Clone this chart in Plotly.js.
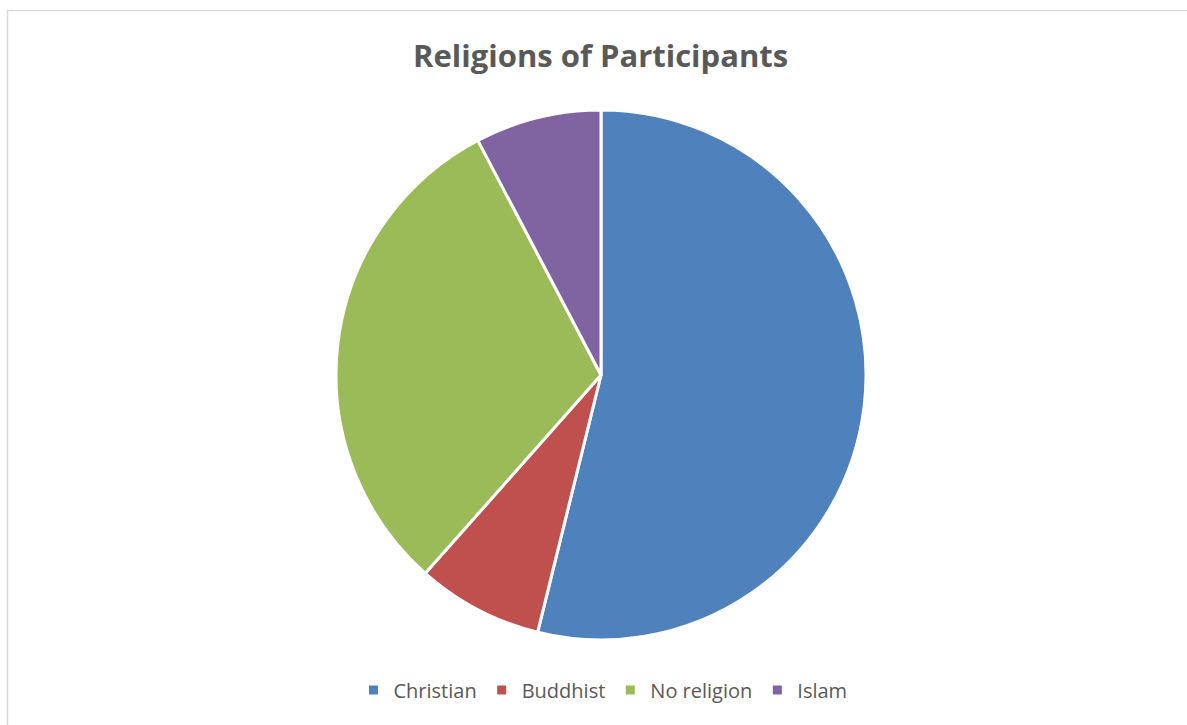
<!DOCTYPE html>
<html>
<head>
<meta charset="utf-8">
<script src="https://cdn.plot.ly/plotly-3.0.1.min.js"></script>
<style>html,body{margin:0;padding:0;background:#fff;}#chart{width:1187px;height:725px;}</style>
</head>
<body>
<div id="chart"></div>
<script>
const categories = ["Christian", "Buddhist", "No religion", "Islam"];
const counts = [14, 2, 8, 2];
const colors = ["#4F81BD", "#C0504D", "#9BBB59", "#8064A2"];

const W = 1187, H = 725;
const trace = {
  type: "pie",
  labels: categories,
  values: counts,
  sort: false,
  direction: "clockwise",
  rotation: 0,
  textinfo: "none",
  hoverinfo: "label+value+percent",
  marker: {colors: colors, line: {color: "#ffffff", width: 3}},
  domain: {x: [336 / W, 866 / W], y: [(H - 640) / H, (H - 110) / H]}
};

const layout = {
  width: W, height: H,
  margin: {l: 0, r: 0, t: 0, b: 0},
  paper_bgcolor: "#ffffff",
  title: {
    text: "<b>Religions of Participants</b>",
    font: {family: "Open Sans, sans-serif", size: 31, color: "#595959"},
    x: 0.506, xanchor: "center", y: (H - 56) / H, yanchor: "middle", yref: "container"
  },
  showlegend: true,
  legend: {
    orientation: "h", x: 0.508, xanchor: "center", y: (H - 690) / H, yanchor: "middle",
    font: {family: "Open Sans, sans-serif", size: 20, color: "#595959"},
    itemwidth: 30, traceorder: "normal"
  },
  shapes: [
    {type: "line", xref: "paper", yref: "paper", x0: 7.5 / W, x1: 1, y0: (H - 10.5) / H, y1: (H - 10.5) / H, line: {color: "#d9d9d9", width: 1.5}},
    {type: "line", xref: "paper", yref: "paper", x0: 7.5 / W, x1: 7.5 / W, y0: 0, y1: (H - 10.5) / H, line: {color: "#d9d9d9", width: 1.5}}
  ]
};

Plotly.newPlot("chart", [trace], layout, {displayModeBar: false, staticPlot: true});
</script>
</body>
</html>
